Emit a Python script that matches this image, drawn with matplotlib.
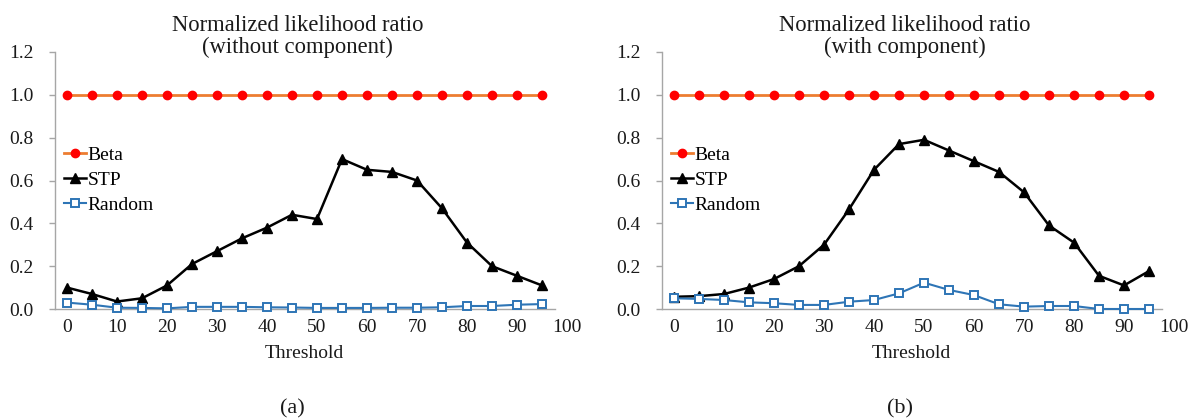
import matplotlib
matplotlib.use("Agg")
import matplotlib.pyplot as plt

plt.rcParams['font.family'] = ['Liberation Serif', 'DejaVu Serif']

# schwellwerte 0..95
threshold = [0, 5, 10, 15, 20, 25, 30, 35, 40, 45, 50, 55, 60, 65, 70, 75, 80, 85, 90, 95]

# (a) ohne komponente
beta_a = [1.0] * 20
stp_a = [0.10, 0.07, 0.035, 0.05, 0.11, 0.21, 0.27, 0.33, 0.38, 0.44,
         0.42, 0.70, 0.65, 0.64, 0.60, 0.47, 0.31, 0.20, 0.155, 0.11]
random_a = [0.03, 0.02, 0.006, 0.005, 0.003, 0.01, 0.01, 0.01, 0.008, 0.007,
            0.005, 0.005, 0.005, 0.006, 0.006, 0.008, 0.014, 0.014, 0.02, 0.023]

# (b) mit komponente
beta_b = [1.0] * 20
stp_b = [0.057, 0.06, 0.07, 0.10, 0.14, 0.20, 0.30, 0.465, 0.65, 0.77,
         0.79, 0.74, 0.69, 0.64, 0.545, 0.39, 0.31, 0.155, 0.11, 0.177]
random_b = [0.05, 0.047, 0.042, 0.031, 0.027, 0.019, 0.019, 0.034, 0.042, 0.073,
            0.123, 0.089, 0.065, 0.022, 0.011, 0.014, 0.014, 0.0, 0.0, 0.0]

titles = ["Normalized likelihood ratio\n(without component)",
          "Normalized likelihood ratio\n(with component)"]
sublabels = ["(a)", "(b)"]
xticks = [0, 10, 20, 30, 40, 50, 60, 70, 80, 90, 100]
yticks = [0.0, 0.2, 0.4, 0.6, 0.8, 1.0, 1.2]

fig = plt.figure(figsize=(11.89, 4.2), dpi=100)

W, H = 1189, 420
lefts = [54.5, 661.5]
daten = [(beta_a, stp_a, random_a), (beta_b, stp_b, random_b)]
textfarbe = '#1a1a1a'

for i in range(2):
    ax = fig.add_axes([lefts[i] / W, (H - 309) / H, 525 / W, 257 / H])
    beta, stp, rnd = daten[i]

    ax.plot(threshold, beta, color='#ED7D31', lw=2, marker='o', ms=6,
            mfc='#FF0000', mec='#FF0000', label='Beta', zorder=3)
    ax.plot(threshold, stp, color='black', lw=1.8, marker='^', ms=7.5,
            mfc='black', mec='black', label='STP', zorder=3)
    ax.plot(threshold, rnd, color='#2E75B6', lw=1.5, marker='s', ms=5.5,
            mfc='white', mec='#2E75B6', mew=1.4, label='Random', zorder=4,
            clip_on=False)

    ax.set_xlim(-2.5, 102.5)
    ax.set_ylim(0, 1.2)
    ax.set_xticks(xticks)
    ax.set_yticks(yticks)
    ax.set_yticklabels(["%.1f" % v for v in yticks])

    for s in ['top', 'right']:
        ax.spines[s].set_visible(False)
    for s in ['left', 'bottom']:
        ax.spines[s].set_color('#A6A6A6')
        ax.spines[s].set_linewidth(1.0)
    ax.spines['bottom'].set_bounds(-2.5, 97.5)

    ax.tick_params(axis='x', length=0, pad=7, labelsize=14, colors=textfarbe)
    ax.tick_params(axis='y', length=4, width=1, color='#A6A6A6', pad=11,
                   labelsize=14, labelcolor=textfarbe)

    ax.set_xlabel("Threshold", fontsize=14, color=textfarbe, labelpad=7,
                  x=250 / 525)
    # titel zweizeilig ueber dem diagramm
    ax.text(243 / 525, 0.975, titles[i], transform=ax.transAxes,
            fontsize=16.3, color=textfarbe, ha='center', va='bottom',
            linespacing=1.1)

    ax.legend(loc='upper left', bbox_to_anchor=(0.0, 0.67), frameon=False,
              fontsize=14, handlelength=1.1, handletextpad=0.1,
              labelspacing=0.38, borderaxespad=0.3, borderpad=0.2)

    fig.text((lefts[i] + 238) / W, (H - 409) / H, sublabels[i],
             fontsize=16, ha='center', va='center', color=textfarbe)

fig.savefig("out.png", dpi=100)
